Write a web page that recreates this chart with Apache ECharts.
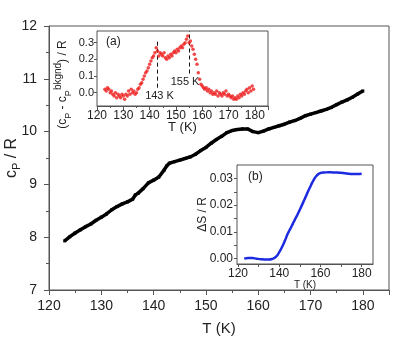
<!DOCTYPE html>
<html>
<head>
<meta charset="utf-8">
<script src="https://cdn.jsdelivr.net/npm/echarts@6/dist/echarts.min.js"></script>
<style>
html, body { margin: 0; padding: 0; background: #fff; }
#chart { width: 415px; height: 339px; }
</style>
</head>
<body>
<div id="chart"></div>
<script>
// main curve: cp / R vs T
var mainT = [123, 124, 125, 126, 127, 128, 129, 130, 131, 132, 133, 134, 135, 136, 136.5, 137, 138, 139, 140, 141, 142, 142.5, 143, 144, 145, 146, 147, 148, 149, 150,
	151, 152, 153, 154, 155, 156, 157, 158, 159, 160, 161, 162, 163, 164, 165, 166, 167, 168, 169, 170, 171, 172, 173, 174, 175, 176, 177, 178, 179, 180];
var mainCp = [7.93, 8.01, 8.08, 8.14, 8.2, 8.25, 8.32, 8.38, 8.44, 8.52, 8.58, 8.63, 8.67, 8.72, 8.8, 8.83, 8.92, 9.03, 9.08, 9.14, 9.27, 9.35, 9.4, 9.43, 9.46, 9.49, 9.52, 9.57, 9.64, 9.7,
	9.78, 9.85, 9.91, 9.98, 10.02, 10.04, 10.05, 10.05, 10.0, 9.98, 10.01, 10.05, 10.08, 10.11, 10.14, 10.18, 10.21, 10.25, 10.3, 10.33, 10.36, 10.39, 10.42, 10.46, 10.51, 10.56, 10.6, 10.65, 10.71, 10.77];

// inset (a): background subtracted cp
var aT = [123, 123.5, 124, 124.5, 125, 125.5, 126, 126.5, 127, 127.5, 128, 128.5, 129, 129.5, 130, 130.5, 131, 131.5, 132, 132.5,
	133, 133.5, 134, 134.5, 135, 135.5, 136, 136.5, 137, 137.5, 138, 138.5, 139, 139.5, 140, 140.5, 141, 141.5, 142, 142.5,
	143, 143.5, 144, 144.5, 145, 145.5, 146, 146.5, 147, 147.5, 148, 148.5, 149, 149.5, 150, 150.5, 151, 151.5, 152, 152.5,
	153, 153.5, 154, 154.5, 155, 155.5, 156, 156.5, 157, 157.5, 158, 158.5, 159, 159.5, 160, 160.5, 161, 161.5, 162, 162.5,
	163, 163.5, 164, 164.5, 165, 165.5, 166, 166.5, 167, 167.5, 168, 168.5, 169, 169.5, 170, 170.5, 171, 171.5, 172, 172.5,
	173, 173.5, 174, 174.5, 175, 175.5, 176, 176.5, 177, 177.5, 178, 178.5, 179, 179.5];
var aCp = [0.02, 0.01, 0.03, 0.02, 0.0, 0.01, -0.01, -0.02, 0.0, -0.03, -0.01, -0.02, -0.03, -0.01, -0.02, -0.04, -0.01, -0.02, 0.01, -0.01,
	0.02, 0.0, 0.01, -0.01, 0.0, 0.02, 0.03, 0.05, 0.06, 0.08, 0.1, 0.12, 0.13, 0.15, 0.17, 0.19, 0.21, 0.22, 0.24, 0.27,
	0.25, 0.22, 0.24, 0.23, 0.22, 0.24, 0.21, 0.2, 0.22, 0.21, 0.23, 0.22, 0.24, 0.25, 0.24, 0.26, 0.25, 0.27, 0.28, 0.27,
	0.29, 0.3, 0.32, 0.34, 0.3, 0.31, 0.28, 0.26, 0.23, 0.2, 0.17, 0.12, 0.08, 0.05, 0.04, 0.03, 0.02, 0.03, 0.01, 0.02,
	0.0, 0.01, -0.01, 0.0, -0.01, 0.01, -0.02, 0.0, -0.01, -0.02, 0.0, -0.01, 0.01, -0.02, -0.01, -0.02, -0.03, -0.02, -0.04, -0.03,
	-0.04, -0.02, -0.03, -0.01, -0.02, 0.0, -0.01, 0.01, 0.02, 0.0, 0.03, 0.01, 0.04, 0.02];
var peakT = [143, 155];
var peakLow = [0.03, 0.115];
var peakHigh = [0.32, 0.37];
var peakLabelShift = [2, -4];

// inset (b): entropy
var bT = [123, 125, 127, 129, 131, 133, 135, 137, 138, 139, 140, 141, 142, 143, 144, 145, 146, 147, 148, 149, 150,
	151, 152, 153, 154, 155, 156, 157, 158, 159, 160, 162, 164, 166, 168, 170, 172, 174, 176, 178, 180];
var bS = [0.0, 0.0002, 0.0002, 0.0, -0.0002, -0.0003, -0.0003, 0.0, 0.0004, 0.0012, 0.0024, 0.0038, 0.0054, 0.0072, 0.0091, 0.0106, 0.0121, 0.0137, 0.0152, 0.0167, 0.0183,
	0.02, 0.0217, 0.0234, 0.0252, 0.0268, 0.0284, 0.0298, 0.0309, 0.0316, 0.032, 0.0322, 0.0323, 0.0322, 0.0322, 0.0321, 0.0319, 0.0317, 0.0316, 0.0316, 0.0317];

function zip(xs, ys) {
	var out = [];
	for (var i = 0; i < xs.length; i++) out.push([xs[i], ys[i]]);
	return out;
}

var font = 'Liberation Sans, Arial, sans-serif';
var axisCol = '#555';
var textCol = '#222';

function axisStyle(fs) {
	return {
		axisLine: { show: true, onZero: false, lineStyle: { color: axisCol, width: 1 } },
		axisTick: { show: true, inside: false, length: 4, lineStyle: { color: axisCol } },
		splitLine: { show: false },
		nameMoveOverlap: false,
		axisLabel: { color: textCol, fontSize: fs, fontFamily: font, margin: 4 },
		nameTextStyle: { color: textCol, fontFamily: font }
	};
}

function merge(a, b) {
	for (var k in b) a[k] = b[k];
	return a;
}

var peakLines = [];
for (var i = 0; i < peakT.length; i++) {
	peakLines.push([
		{ name: peakT[i] + ' K', coord: [peakT[i], peakLow[i]], label: { offset: [peakLabelShift[i], 0] } },
		{ coord: [peakT[i], peakHigh[i]] }
	]);
}

var gridBase = { show: true, borderColor: axisCol, borderWidth: 1, containLabel: false, outerBoundsMode: 'none' };

var chart = echarts.init(document.getElementById('chart'));
var option = {
	animation: false,
	backgroundColor: '#fff',
	grid: [
		merge({ left: 49, top: 26, right: 26, bottom: 49, backgroundColor: 'transparent' }, gridBase),
		merge({ left: 97, top: 31, width: 171, height: 75, backgroundColor: '#fff', z: 5 }, gridBase),
		merge({ left: 237, top: 165, width: 136, height: 99, backgroundColor: '#fff', z: 5 }, gridBase)
	],
	xAxis: [
		merge(axisStyle(14), {
			type: 'value', gridIndex: 0, min: 120, max: 185, interval: 10,
			name: 'T (K)', nameLocation: 'middle', nameGap: 31,
			minorTick: { show: true, splitNumber: 2, length: 3, lineStyle: { color: axisCol } },
			axisTick: { show: true, length: 5, lineStyle: { color: axisCol } },
			axisLabel: { color: textCol, fontSize: 14, fontFamily: font, margin: 9, showMaxLabel: false },
			nameTextStyle: { color: textCol, fontFamily: font, fontSize: 15 }
		}),
		merge(axisStyle(12), {
			type: 'value', gridIndex: 1, min: 120, max: 185, interval: 10,
			name: 'T (K)', nameLocation: 'middle', nameGap: 15,
			minorTick: { show: true, splitNumber: 2, length: 2, lineStyle: { color: axisCol } },
			axisLabel: { color: textCol, fontSize: 12, fontFamily: font, margin: 4, showMaxLabel: false },
			nameTextStyle: { color: textCol, fontFamily: font, fontSize: 13 }
		}),
		merge(axisStyle(12), {
			type: 'value', gridIndex: 2, min: 119.5, max: 185.5,
			name: 'T (K)', nameLocation: 'middle', nameGap: 16,
			axisTick: { show: true, length: 3, customValues: [120, 130, 140, 150, 160, 170, 180], lineStyle: { color: axisCol } },
			axisLabel: { color: textCol, fontSize: 12, fontFamily: font, margin: 4, customValues: [120, 140, 160, 180] },
			nameTextStyle: { color: textCol, fontFamily: font, fontSize: 10 }
		})
	],
	yAxis: [
		merge(axisStyle(14), {
			type: 'value', gridIndex: 0, min: 7, max: 12, interval: 1,
			name: '{a|c}{s|P}{a| / R}', nameLocation: 'middle', nameGap: 27, nameRotate: 90,
			minorTick: { show: true, splitNumber: 2, length: 3, lineStyle: { color: axisCol } },
			axisTick: { show: true, length: 5, lineStyle: { color: axisCol } },
			axisLabel: { color: textCol, fontSize: 14, fontFamily: font, margin: 12 },
			nameTextStyle: {
				color: textCol, fontFamily: font,
				rich: {
					a: { fontSize: 16, fontFamily: font, color: textCol, lineHeight: 20 },
					s: { fontSize: 11, fontFamily: font, color: textCol, verticalAlign: 'bottom', lineHeight: 11 }
				}
			}
		}),
		merge(axisStyle(11), {
			type: 'value', gridIndex: 1, min: -0.08, max: 0.37,
			name: '{a|(c}{s|P}{a| - c}{s|P}{u|bkgnd}{a|) / R}', nameLocation: 'middle', nameGap: 24, nameRotate: 90,
			axisTick: { show: true, length: 3, customValues: [0, 0.1, 0.2, 0.3], lineStyle: { color: axisCol } },
			axisLabel: {
				color: textCol, fontSize: 11, fontFamily: font, margin: 3, customValues: [0, 0.1, 0.2, 0.3],
				formatter: function (v) { return v.toFixed(1); }
			},
			nameTextStyle: {
				color: textCol, fontFamily: font, padding: [0, 32, 0, 0],
				rich: {
					a: { fontSize: 12, fontFamily: font, color: textCol, lineHeight: 20 },
					s: { fontSize: 9, fontFamily: font, color: textCol, verticalAlign: 'bottom', lineHeight: 9 },
					u: { fontSize: 10, fontFamily: font, color: textCol, verticalAlign: 'top', lineHeight: 10 }
				}
			}
		}),
		merge(axisStyle(12), {
			type: 'value', gridIndex: 2, min: -0.002, max: 0.035,
			name: '\u0394S / R', nameLocation: 'middle', nameGap: 28, nameRotate: 90,
			axisTick: { show: true, length: 3, customValues: [0, 0.005, 0.01, 0.015, 0.02, 0.025, 0.03], lineStyle: { color: axisCol } },
			axisLabel: {
				color: textCol, fontSize: 12, fontFamily: font, margin: 4, customValues: [0, 0.01, 0.02, 0.03],
				formatter: function (v) { return v.toFixed(2); }
			},
			nameTextStyle: { color: textCol, fontFamily: font, fontSize: 12 }
		})
	],
	graphic: [
		{ type: 'text', left: 106, top: 36, z: 100, style: { text: '(a)', fontSize: 12, fontFamily: font, fill: textCol } },
		{ type: 'text', left: 248, top: 171, z: 100, style: { text: '(b)', fontSize: 12, fontFamily: font, fill: textCol } }
	],
	series: [
		{
			type: 'line', xAxisIndex: 0, yAxisIndex: 0,
			data: zip(mainT, mainCp),
			symbol: 'rect', symbolSize: 3, showSymbol: true,
			lineStyle: { color: '#000', width: 3.5 },
			itemStyle: { color: '#000' }
		},
		{
			type: 'scatter', xAxisIndex: 1, yAxisIndex: 1, z: 10,
			data: zip(aT, aCp),
			symbol: 'circle', symbolSize: 3.5,
			itemStyle: { color: '#ee1b1b' },
			markLine: {
				symbol: ['none', 'none'],
				silent: true,
				lineStyle: { color: '#111', type: [4, 3], width: 1 },
				label: {
					show: true, position: 'start', formatter: '{b}', distance: 3,
					fontSize: 11, fontFamily: font, color: textCol
				},
				data: peakLines
			}
		},
		{
			type: 'line', xAxisIndex: 2, yAxisIndex: 2, z: 10,
			data: zip(bT, bS),
			smooth: true, showSymbol: false,
			lineStyle: { color: '#1c2be0', width: 2.5 }
		}
	]
};
chart.setOption(option);
</script>
</body>
</html>
